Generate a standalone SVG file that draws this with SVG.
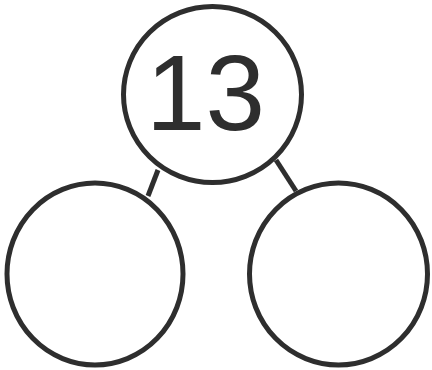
<svg xmlns="http://www.w3.org/2000/svg" width="432" height="370" viewBox="0 0 432 370">
<style>
.c{fill:none;stroke:#2e2e2e;stroke-width:5}
.l{stroke:#2e2e2e;stroke-width:5;fill:none}
.t{font-family:"Liberation Sans",Arial,sans-serif;font-size:107px;fill:#2e2e2e}
</style>
<rect width="432" height="370" fill="#ffffff"/>
<g id="connectors">
<line class="l" x1="158" y1="170" x2="148" y2="196"/>
<line class="l" x1="276" y1="160" x2="296" y2="191"/>
</g>
<g id="top">
<ellipse class="c" cx="212.5" cy="94.5" rx="89" ry="88"/>
<text class="t" x="146" y="130">13</text>
</g>
<g id="left">
<ellipse class="c" cx="95" cy="274" rx="88" ry="91"/>
</g>
<g id="right">
<ellipse class="c" cx="338.5" cy="274" rx="89" ry="91"/>
</g>
</svg>
